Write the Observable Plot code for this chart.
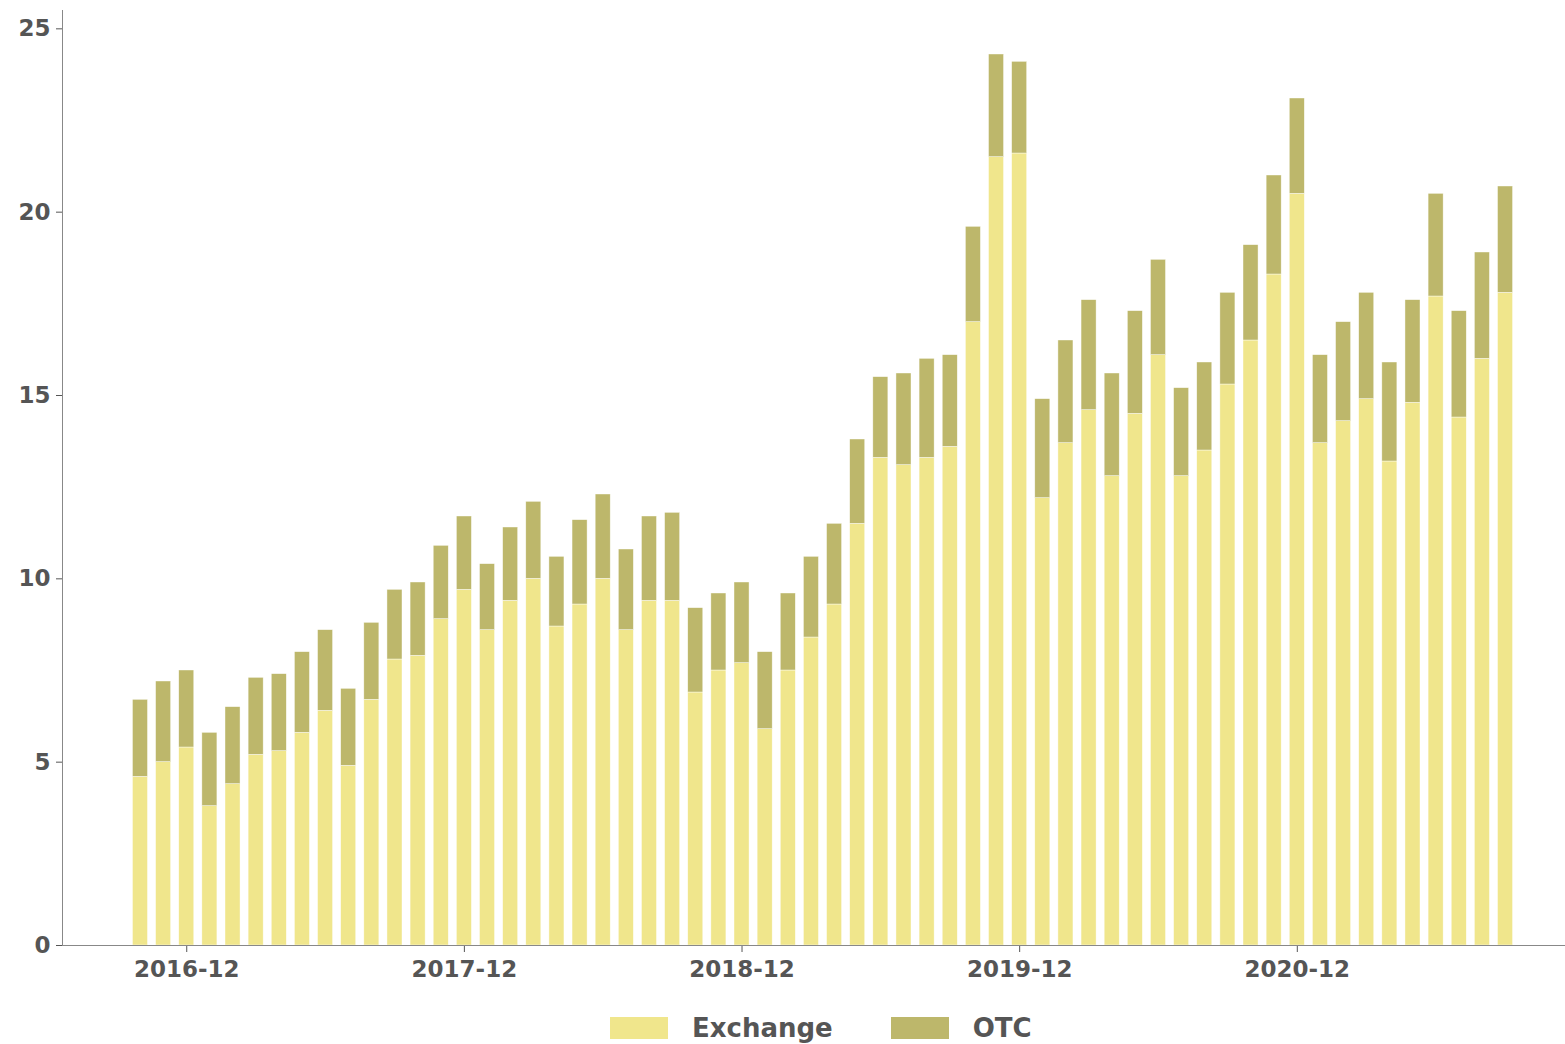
<!DOCTYPE html>
<html>
<head>
<meta charset="utf-8">
<script src="https://cdn.jsdelivr.net/npm/d3@7"></script>
<script src="https://cdn.jsdelivr.net/npm/@observablehq/plot@0.6"></script>
<style>
  html, body { margin: 0; padding: 0; background: #fff; }
  #chart svg { display: block; }
  .legend { display: flex; align-items: center; height: 66px; padding-left: 610px;
    font-family: "DejaVu Sans", sans-serif; font-weight: 600; font-size: 26px; color: #555; }
  .legend .sw { width: 58px; height: 22px; margin-right: 24px; }
  .legend .item { display: flex; align-items: center; margin-right: 58px; }
</style>
</head>
<body>
<div id="chart"></div>
<div class="legend" id="legend"></div>
<script>
const months = [
  "2016-10","2016-11","2016-12",
  "2017-01","2017-02","2017-03","2017-04","2017-05","2017-06","2017-07","2017-08","2017-09","2017-10","2017-11","2017-12",
  "2018-01","2018-02","2018-03","2018-04","2018-05","2018-06","2018-07","2018-08","2018-09","2018-10","2018-11","2018-12",
  "2019-01","2019-02","2019-03","2019-04","2019-05","2019-06","2019-07","2019-08","2019-09","2019-10","2019-11","2019-12",
  "2020-01","2020-02","2020-03","2020-04","2020-05","2020-06","2020-07","2020-08","2020-09","2020-10","2020-11","2020-12",
  "2021-01","2021-02","2021-03","2021-04","2021-05","2021-06","2021-07","2021-08","2021-09"
];
const exchange = [
  4.6, 5.0, 5.4,
  3.8, 4.4, 5.2, 5.3, 5.8, 6.4, 4.9, 6.7, 7.8, 7.9, 8.9, 9.7,
  8.6, 9.4, 10.0, 8.7, 9.3, 10.0, 8.6, 9.4, 9.4, 6.9, 7.5, 7.7,
  5.9, 7.5, 8.4, 9.3, 11.5, 13.3, 13.1, 13.3, 13.6, 17.0, 21.5, 21.6,
  12.2, 13.7, 14.6, 12.8, 14.5, 16.1, 12.8, 13.5, 15.3, 16.5, 18.3, 20.5,
  13.7, 14.3, 14.9, 13.2, 14.8, 17.7, 14.4, 16.0, 17.8
];
const otc = [
  2.1, 2.2, 2.1,
  2.0, 2.1, 2.1, 2.1, 2.2, 2.2, 2.1, 2.1, 1.9, 2.0, 2.0, 2.0,
  1.8, 2.0, 2.1, 1.9, 2.3, 2.3, 2.2, 2.3, 2.4, 2.3, 2.1, 2.2,
  2.1, 2.1, 2.2, 2.2, 2.3, 2.2, 2.5, 2.7, 2.5, 2.6, 2.8, 2.5,
  2.7, 2.8, 3.0, 2.8, 2.8, 2.6, 2.4, 2.4, 2.5, 2.6, 2.7, 2.6,
  2.4, 2.7, 2.9, 2.7, 2.8, 2.8, 2.9, 2.9, 2.9
];
const seriesNames = ["Exchange", "OTC"];
const seriesColors = ["#F0E68C", "#BDB76B"];
const xTicks = ["2016-12", "2017-12", "2018-12", "2019-12", "2020-12"];
const yTicks = [0, 5, 10, 15, 20, 25];

const rows = [];
months.forEach((m, i) => {
  rows.push({month: m, type: seriesNames[0], value: exchange[i]});
  rows.push({month: m, type: seriesNames[1], value: otc[i]});
});

const chart = Plot.plot({
  width: 1565,
  height: 995,
  marginTop: 10,
  marginLeft: 62,
  marginRight: 0,
  marginBottom: 50,
  style: {fontFamily: "DejaVu Sans, sans-serif", fontSize: "23px", fontWeight: 600, color: "#555"},
  x: {type: "band", domain: months, range: [128.4, 1516.6], paddingInner: 0.35, paddingOuter: 0.175, round: false, label: null},
  y: {domain: [0, 25.5], label: null},
  color: {domain: seriesNames, range: seriesColors},
  marks: [
    Plot.barY(rows, Plot.stackY({x: "month", y: "value", fill: "type", order: seriesNames, stroke: "#fff", strokeWidth: 0.6, strokeOpacity: 0.7})),
    Plot.axisX({ticks: xTicks, tickSize: 7, tickPadding: 8, stroke: "#555", fill: "#555", fontSize: 23, fontWeight: 600, label: null}),
    Plot.axisY({ticks: yTicks, tickSize: 6, tickPadding: 6, stroke: "#555", fill: "#555", fontSize: 23, fontWeight: 600, label: null}),
    Plot.ruleY([0], {stroke: "#888", strokeWidth: 1}),
    Plot.frame({anchor: "left", stroke: "#888", strokeWidth: 1})
  ]
});
document.getElementById("chart").appendChild(chart);

const legend = document.getElementById("legend");
seriesNames.forEach((n, i) => {
  const item = document.createElement("div");
  item.className = "item";
  const sw = document.createElement("div");
  sw.className = "sw";
  sw.style.background = seriesColors[i];
  const t = document.createElement("span");
  t.textContent = n;
  item.appendChild(sw);
  item.appendChild(t);
  legend.appendChild(item);
});
</script>
</body>
</html>
